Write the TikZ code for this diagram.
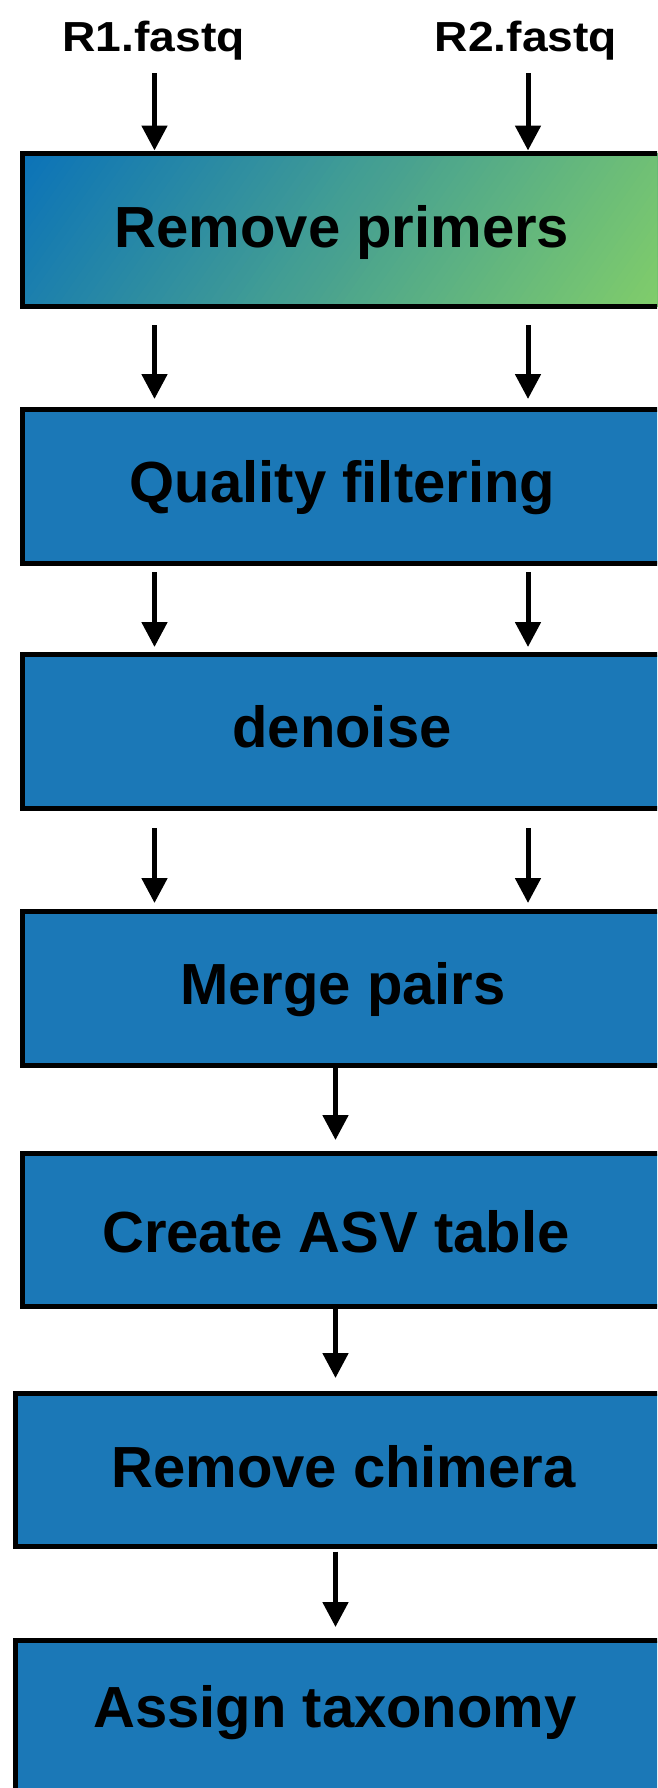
\documentclass[tikz,border=0pt]{standalone}
\usepackage{fontspec}
\setmainfont{Liberation Sans}
\usetikzlibrary{arrows.meta}
\definecolor{stageblue}{RGB}{27,120,183}
\definecolor{gradstart}{RGB}{10,114,185}
\definecolor{gradend}{RGB}{129,205,106}
\tikzset{
  stage/.style={rectangle, draw=black, line width=5pt, fill=stageblue,
    inner sep=0pt, outer sep=0pt},
  stagetext/.style={anchor=base, inner sep=0pt, outer sep=0pt,
    font=\fontsize{58}{64}\selectfont\bfseries},
  infile/.style={anchor=base, inner sep=0pt, outer sep=0pt, text depth=0pt,
    font=\fontsize{42}{48}\selectfont\bfseries},
  flow/.style={line width=5pt, -{Triangle[width=25pt,length=25pt]}},
}
\begin{document}
\begin{tikzpicture}[x=1pt,y=-1pt]
\useasboundingbox (0,0) rectangle (657,1788);
\clip (0,0) rectangle (657,1788);

% lanes for the read arrows
\coordinate (laneL) at (154.5,0);
\coordinate (laneR) at (528,0);
\coordinate (laneM) at (335.5,0);

% input files
\node[infile] (r1) at (153.5,51.7) {\scalebox{1.1}[1]{R1.fastq}};
\node[infile] (r2) at (526,51.7) {\scalebox{1.1}[1]{R2.fastq}};

% diagonal blue-to-green gradient of the first stage
\begin{scope}
  \clip (22.5,153.5) rectangle (667.5,306.5);
  \fill[gradstart] (0,140) rectangle (680,320);
  \foreach \i in {1,...,90}{
    \pgfmathsetmacro\tpos{(\i-0.5)/90*613}
    \pgfmathsetmacro\mx{\i/90*100}
    \fill[gradend!\mx!gradstart]
      ({20+0.819*\tpos+459},{151+0.574*\tpos-655})
      -- ({20+0.819*\tpos-459},{151+0.574*\tpos+655})
      -- ++(1229,861) -- ++(918,-1310) -- cycle;
  }
\end{scope}

% pipeline stages
\node[stage, fill=none, minimum width=645pt, minimum height=153pt] (b1) at (345,230) {};
\node[stage, minimum width=645pt, minimum height=154pt] (b2) at (345,486.5) {};
\node[stage, minimum width=645pt, minimum height=154pt] (b3) at (345,731.5) {};
\node[stage, minimum width=645pt, minimum height=154pt] (b4) at (345,988.5) {};
\node[stage, minimum width=645pt, minimum height=153pt] (b5) at (345,1230) {};
\node[stage, minimum width=652pt, minimum height=153pt] (b6) at (341.5,1470) {};
\node[stage, minimum width=652pt, minimum height=153pt] (b7) at (341.5,1717) {};

\node[stagetext] (t1) at (342,247) {Remove primers};
\node[stagetext] (t2) at (342.5,502) {Quality filtering};
\node[stagetext] (t3) at (342,747) {denoise};
\node[stagetext] (t4) at (343,1004) {Merge pairs};
\node[stagetext] (t5) at (336,1252) {Create ASV table};
\node[stagetext] (t6) at (343.5,1487) {Remove chimera};
\node[stagetext] (t7) at (335,1727) {Assign taxonomy};

% paired reads
\draw[flow, shorten <=21.3pt, shorten >=3pt] (r1.south -| laneL) -- (b1.north -| laneL);
\draw[flow, shorten <=21.3pt, shorten >=3pt] (r2.south -| laneR) -- (b1.north -| laneR);
\draw[flow, shorten <=18.5pt, shorten >=10.5pt] (b1.south -| laneL) -- (b2.north -| laneL);
\draw[flow, shorten <=18.5pt, shorten >=10.5pt] (b1.south -| laneR) -- (b2.north -| laneR);
\draw[flow, shorten <=8.5pt, shorten >=7.5pt] (b2.south -| laneL) -- (b3.north -| laneL);
\draw[flow, shorten <=8.5pt, shorten >=7.5pt] (b2.south -| laneR) -- (b3.north -| laneR);
\draw[flow, shorten <=19.5pt, shorten >=8.5pt] (b3.south -| laneL) -- (b4.north -| laneL);
\draw[flow, shorten <=19.5pt, shorten >=8.5pt] (b3.south -| laneR) -- (b4.north -| laneR);

% merged reads
\draw[flow, shorten <=2.5pt, shorten >=13.5pt] (b4.south -| laneM) -- (b5.north -| laneM);
\draw[flow, shorten >=15.5pt] (b5.south -| laneM) -- (b6.north -| laneM);
\draw[flow, shorten <=5.2pt, shorten >=13.5pt] (b6.south -| laneM) -- (b7.north -| laneM);
\end{tikzpicture}
\end{document}
